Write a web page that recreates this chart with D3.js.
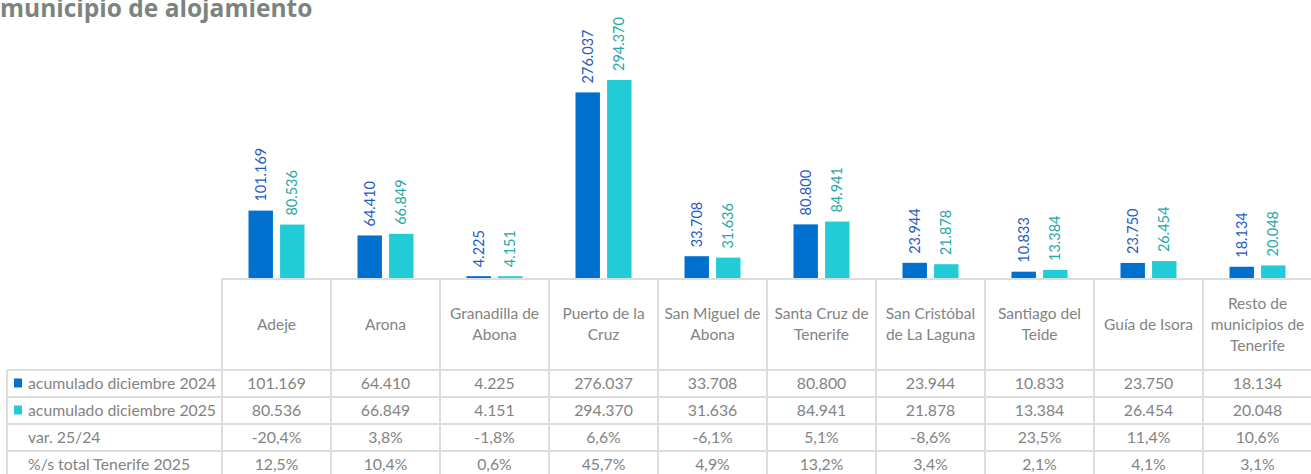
<!DOCTYPE html>
<html>
<head>
<meta charset="utf-8">
<script src="https://cdn.jsdelivr.net/npm/d3@7"></script>
<style>
  body { margin: 0; background: #fff; }
  svg { display: block; font-family: Lato, "Open Sans", sans-serif; }
</style>
</head>
<body>
<svg id="chart" width="1311" height="474"></svg>
<script>
// data
const categories = ["Adeje", "Arona", "Granadilla de\nAbona", "Puerto de la\nCruz", "San Miguel de\nAbona",
    "Santa Cruz de\nTenerife", "San Cristóbal\nde La Laguna", "Santiago del\nTeide", "Guía de Isora",
    "Resto de\nmunicipios de\nTenerife"];
const series = ["acumulado diciembre 2024", "acumulado diciembre 2025"];
const values2024 = [101169, 64410, 4225, 276037, 33708, 80800, 23944, 10833, 23750, 18134];
const values2025 = [80536, 66849, 4151, 294370, 31636, 84941, 21878, 13384, 26454, 20048];
const variation = [-20.4, 3.8, -1.8, 6.6, -6.1, 5.1, -8.6, 23.5, 11.4, 10.6];
const shareTotal = [12.5, 10.4, 0.6, 45.7, 4.9, 13.2, 3.4, 2.1, 4.1, 3.1];
const title = "municipio de alojamiento";

const barColors = ["#0070cf", "#22ccd6"];
const labelColors = ["#1f5cc2", "#2ba6a6"];
const textGray = "#838383";
const gridGray = "#dcdcdc";

const locale = d3.formatLocale({decimal: ",", thousands: ".", grouping: [3], currency: ["", "€"], minus: "-"});
const fmtInt = locale.format(",d");
const fmtPct = v => locale.format(".1f")(v) + "%";

const svg = d3.select("#chart");
const tableTop = 279, headerBottom = 370, rowH = 27;
const leftEdge = 7, plotLeft = 222, plotRight = 1312;

const x = d3.scaleBand().domain(categories).range([plotLeft, plotRight]);
const xSub = d3.scaleBand().domain(series).range([26.5, 82.5]).paddingInner(7 / 31);
const y = d3.scaleLinear().domain([0, 300000]).range([tableTop, tableTop - 202.8]);

//title
svg.append("text")
    .attr("x", 0).attr("y", 17)
    .attr("font-family", "'Open Sans', sans-serif")
    .attr("font-size", 24.5).attr("font-weight", "bold")
    .attr("fill", "#7c847f")
    .text(title);

//bars + labels
const seriesValues = [values2024, values2025];
const barG = svg.append("g");
seriesValues.forEach((vals, si) => {
    barG.selectAll(".bar" + si).data(vals).join("rect")
        .attr("x", (d, i) => x(categories[i]) + xSub(series[si]))
        .attr("y", d => y(d))
        .attr("width", xSub.bandwidth())
        .attr("height", d => y(0) - y(d))
        .attr("fill", barColors[si]);
    barG.selectAll(".lab" + si).data(vals).join("text")
        .attr("transform", (d, i) => {
            let cx = x(categories[i]) + xSub(series[si]) + xSub.bandwidth() / 2 + 5;
            return `translate(${cx},${y(d) - 9}) rotate(-90)`;
        })
        .attr("font-size", 14.5)
        .attr("fill", labelColors[si])
        .text(d => fmtInt(d));
});

//table grid
const rows = [
    {label: series[0], cells: values2024.map(fmtInt), swatch: barColors[0]},
    {label: series[1], cells: values2025.map(fmtInt), swatch: barColors[1]},
    {label: "var. 25/24", cells: variation.map(fmtPct)},
    {label: "%/s total Tenerife 2025", cells: shareTotal.map(fmtPct)}
];
const bottom = headerBottom + rows.length * rowH;
const grid = svg.append("g").attr("stroke", gridGray).attr("stroke-width", 2);
grid.append("line").attr("x1", plotLeft).attr("x2", plotRight).attr("y1", tableTop).attr("y2", tableTop);
rows.forEach((r, i) => {
    let yy = headerBottom + i * rowH;
    grid.append("line").attr("x1", leftEdge).attr("x2", plotRight).attr("y1", yy).attr("y2", yy);
});
grid.append("line").attr("x1", leftEdge).attr("x2", leftEdge).attr("y1", headerBottom).attr("y2", bottom);
categories.forEach(c => {
    grid.append("line").attr("x1", x(c)).attr("x2", x(c)).attr("y1", tableTop).attr("y2", bottom);
});

//header labels
const headG = svg.append("g").attr("font-size", 15.5).attr("fill", textGray).attr("text-anchor", "middle");
categories.forEach(c => {
    let lines = c.split("\n");
    let cy = (tableTop + headerBottom) / 2;
    let t = headG.append("text").attr("x", x(c) + x.bandwidth() / 2).attr("y", cy + 5 - (lines.length - 1) * 10.5);
    lines.forEach((l, li) => t.append("tspan").attr("x", x(c) + x.bandwidth() / 2).attr("dy", li ? 21 : 0).text(l));
});

//rows
const rowG = svg.append("g").attr("font-size", 15.8).attr("fill", textGray);
rows.forEach((r, i) => {
    let cy = headerBottom + i * rowH + rowH / 2;
    if (r.swatch) {
        rowG.append("rect").attr("x", 14).attr("y", cy - 5).attr("width", 8).attr("height", 9).attr("fill", r.swatch);
    }
    rowG.append("text").attr("x", 28).attr("y", cy + 5.5).text(r.label);
    rowG.selectAll(null).data(r.cells).join("text")
        .attr("x", (d, j) => x(categories[j]) + x.bandwidth() / 2)
        .attr("y", cy + 5.5)
        .attr("text-anchor", "middle")
        .text(d => d);
});
</script>
</body>
</html>
